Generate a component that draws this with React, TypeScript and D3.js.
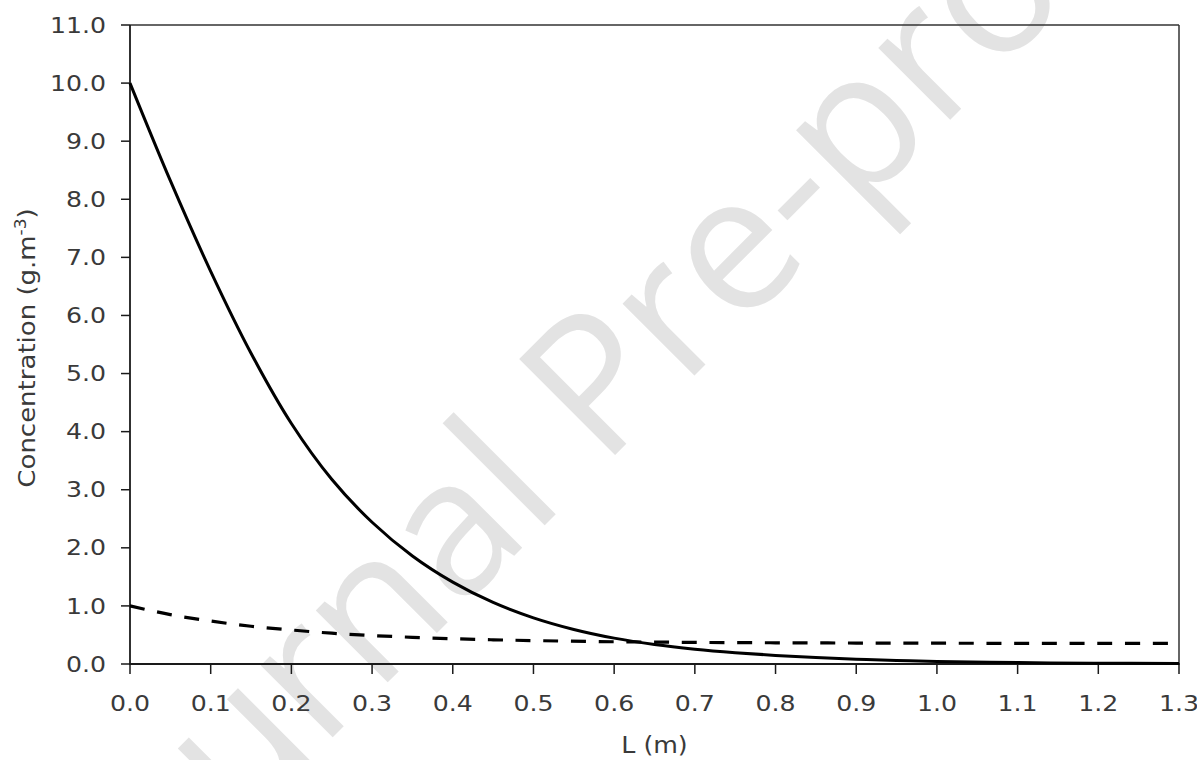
import React from "react";
import * as d3 from "d3";

// ---- data ----
const solidL = [0, 0.05, 0.1, 0.15, 0.2, 0.25, 0.3, 0.35, 0.4, 0.45, 0.5, 0.55, 0.6, 0.65, 0.7, 0.75, 0.8, 0.85, 0.9, 0.95, 1.0, 1.1, 1.2, 1.3];
const solidC = [10.0, 8.32, 6.76, 5.35, 4.14, 3.18, 2.44, 1.86, 1.41, 1.06, 0.795, 0.595, 0.445, 0.335, 0.255, 0.195, 0.148, 0.111, 0.083, 0.061, 0.044, 0.024, 0.014, 0.008];

const dashedL = [0, 0.05, 0.1, 0.15, 0.2, 0.25, 0.3, 0.35, 0.4, 0.45, 0.5, 0.6, 0.7, 0.8, 0.9, 1.0, 1.1, 1.2, 1.3];
const dashedC = [1.0, 0.85, 0.74, 0.65, 0.585, 0.53, 0.49, 0.46, 0.435, 0.417, 0.403, 0.383, 0.372, 0.365, 0.361, 0.358, 0.356, 0.355, 0.355];

const xTicks = [0, 0.1, 0.2, 0.3, 0.4, 0.5, 0.6, 0.7, 0.8, 0.9, 1.0, 1.1, 1.2, 1.3];
const yTicks = [0, 1, 2, 3, 4, 5, 6, 7, 8, 9, 10, 11];

const xLabel = "L (m)";
const yLabelMain = "Concentration (g.m";
const yLabelSup = "-3";
const yLabelEnd = ")";
const watermark = "Journal Pre-proof";

const W = 1197;
const H = 760;
const left = 130;
const right = 1179;
const top = 25;
const bottom = 664;

export default function App() {
  const x = d3.scaleLinear().domain([0, 1.3]).range([left, right]);
  const y = d3.scaleLinear().domain([0, 11]).range([bottom, top]);

  const gen = d3
    .line<[number, number]>()
    .x((d) => x(d[0]))
    .y((d) => y(d[1]))
    .curve(d3.curveCatmullRom.alpha(0.5));

  const solidPath = gen(solidL.map((l, i) => [l, solidC[i]] as [number, number]));
  const dashedPath = gen(dashedL.map((l, i) => [l, dashedC[i]] as [number, number]));

  const tickFont = "'DejaVu Sans', Verdana, sans-serif";
  const textColor = "#3a3a3a";

  return (
    <svg
      width={W}
      height={H}
      style={{ position: "absolute", left: 0, top: 0, background: "#fff" }}
    >
      <rect x={0} y={0} width={W} height={H} fill="#fff" />
      {/* watermark */}
      <text
        transform="translate(122,948) rotate(-45)"
        fontFamily="'Open Sans', sans-serif"
        fontSize={190}
        fill="#e3e3e3"
      >
        {watermark}
      </text>

      {/* plot box */}
      <line x1={left} x2={right} y1={top} y2={top} stroke="#333" strokeWidth={1.5} />
      <line x1={right} x2={right} y1={top} y2={bottom} stroke="#333" strokeWidth={1.5} />
      <line x1={left} x2={left} y1={top} y2={bottom + 0.75} stroke="#1a1a1a" strokeWidth={1.8} />
      <line x1={left - 0.9} x2={right + 0.75} y1={bottom} y2={bottom} stroke="#1a1a1a" strokeWidth={1.8} />

      {/* y ticks */}
      {yTicks.map((t) => (
        <g key={"y" + t}>
          <line x1={left - 9} x2={left} y1={y(t)} y2={y(t)} stroke="#1a1a1a" strokeWidth={1.5} />
          <text
            transform={`translate(106,${y(t) + 7.6}) scale(1.2,1)`}
            textAnchor="end"
            fontFamily={tickFont}
            fontSize={21}
            fill={textColor}
          >
            {t.toFixed(1)}
          </text>
        </g>
      ))}

      {/* x ticks */}
      {xTicks.map((t) => (
        <g key={"x" + t}>
          <line x1={x(t)} x2={x(t)} y1={bottom} y2={bottom + 10} stroke="#1a1a1a" strokeWidth={1.5} />
          <text
            transform={`translate(${x(t)},710.5) scale(1.2,1)`}
            textAnchor="middle"
            fontFamily={tickFont}
            fontSize={21}
            fill={textColor}
          >
            {t.toFixed(1)}
          </text>
        </g>
      ))}

      {/* curves */}
      <path d={solidPath || ""} fill="none" stroke="#000" strokeWidth={3} strokeLinejoin="round" />
      <path
        d={dashedPath || ""}
        fill="none"
        stroke="#000"
        strokeWidth={3.2}
        strokeDasharray="15,12.7"
      />

      {/* axis titles */}
      <text
        transform={`translate(${(left + right) / 2},753) scale(1.1,1)`}
        textAnchor="middle"
        fontFamily={tickFont}
        fontSize={23}
        fill={textColor}
      >
        {xLabel}
      </text>
      <text
        transform={`translate(35,348) rotate(-90) scale(1.13,1)`}
        textAnchor="middle"
        fontFamily={tickFont}
        fontSize={23}
        fill={textColor}
      >
        {yLabelMain}
        <tspan fontSize={15} dy={-9}>
          {yLabelSup}
        </tspan>
        <tspan dy={9}>{yLabelEnd}</tspan>
      </text>
    </svg>
  );
}
